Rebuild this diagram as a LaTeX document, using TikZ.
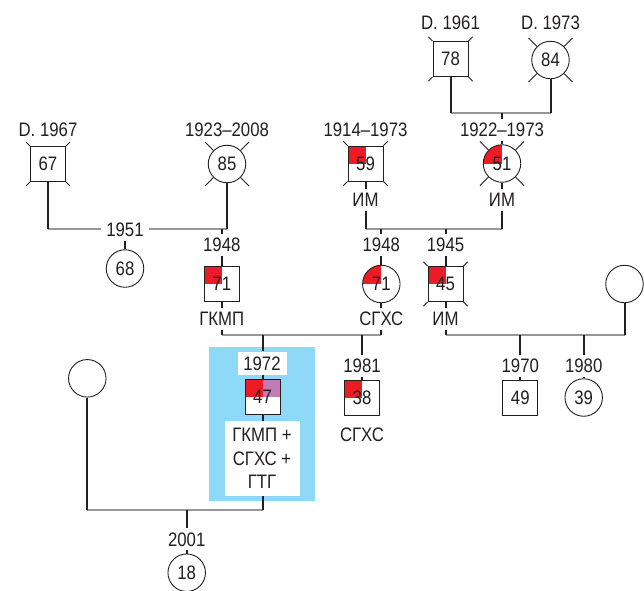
\documentclass[tikz,border=0pt]{standalone}
\usepackage{fontspec}
\setmainfont{Liberation Sans}[FakeStretch=0.86]
\usetikzlibrary{calc}
\definecolor{ink}{RGB}{35,31,32}
\definecolor{hgray}{RGB}{150,151,154}
\definecolor{mred}{RGB}{237,28,36}
\definecolor{mpurple}{RGB}{194,124,181}
\definecolor{mblue}{RGB}{142,216,248}
\begin{document}
\begin{tikzpicture}[x=1pt,y=-1pt, font=\fontsize{19.5}{23.3}\selectfont, text=ink,
  sq/.style={draw=ink, line width=0.9pt, minimum size=35pt, inner sep=0pt, fill=white},
  ci/.style={circle, draw=ink, line width=0.9pt, minimum size=37.5pt, inner sep=0pt, fill=white},
  redq/.style={path picture={\fill[mred] (path picture bounding box.north west) rectangle (path picture bounding box.center);}},
  twoq/.style={path picture={\fill[mred] (path picture bounding box.north west) rectangle (path picture bounding box.center);
     \fill[mpurple] (path picture bounding box.north east) rectangle (path picture bounding box.center);}},
  lab/.style={inner xsep=1pt, inner ysep=4pt},
  vl/.style={draw=ink, line width=2pt},
  hl/.style={draw=hgray, line width=2.2pt},
  tick/.style={draw=ink, line width=0.8pt},
  whitebox/.style={fill=white, inner sep=0pt, align=center}
]
\useasboundingbox (0,0) rectangle (644,590);

% marriage-line junctions
\coordinate (jA1) at (450.5,113.3); \coordinate (jA2) at (550.5,113.3);
\coordinate (jB1) at (48,229);      \coordinate (jB2) at (227,229);
\coordinate (jC1) at (365.5,229);   \coordinate (jC2) at (502,229);
\coordinate (jD1) at (221.8,335);   \coordinate (jD2) at (381.3,335);
\coordinate (jE1) at (445.5,335);   \coordinate (jE2) at (624.5,335);
\coordinate (jF1) at (87.3,510);    \coordinate (jF2) at (262.5,510);

% highlight
\node[fill=mblue, minimum width=106pt, minimum height=154pt, inner sep=0pt] (hlbox) at (262,423.7) {};

% horizontal (gray) lines
\draw[hl] (jA1) -- (jA2);
\draw[hl] (jB1) -- (jB2);
\draw[hl] (jC1) -- (jC2);
\draw[hl] (jD1) -- (jD2);
\draw[hl] (jE1) -- (jE2);
\draw[hl] (jF1) -- (jF2);

% generation 1
\node[sq] (n78) at (450.5,59) {78};
\node[lab] (d78) at (450.5,22.7) {D. 1961};
\node[ci] (n84) at (550.5,60) {84};
\node[lab] (d84) at (550.5,22.7) {D. 1973};

% generation 2
\node[sq] (n67) at (48,164) {67};
\node[lab] (d67) at (48,130) {D. 1967};
\node[ci] (n85) at (227,164) {85};
\node[lab] (d85) at (227,130) {1923–2008};
\node[sq,redq] (n59) at (365.5,163.5) {59};
\node[lab] (d59) at (365.5,130) {1914–1973};
\node[lab] (i59) at (365.5,200) {ИМ};
\node[ci,redq] (n51) at (502,163.5) {51};
\node[lab] (d51) at (502,130) {1922–1973};
\node[lab] (i51) at (502,200) {ИМ};

% generation 3
\node[lab, fill=white, inner xsep=5pt] (y68) at (125,230) {1951};
\node[ci] (n68) at (125,268.5) {68};
\node[lab] (y71a) at (221.8,245) {1948};
\node[sq,redq] (n71a) at (221.8,284) {71};
\node[lab] (g71a) at (221.8,319) {ГКМП};
\node[lab] (y71b) at (381.3,245) {1948};
\node[ci,redq] (n71b) at (381.3,284) {71};
\node[lab] (g71b) at (381.3,319) {СГХС};
\node[lab] (y45) at (445.5,245) {1945};
\node[sq,redq] (n45) at (445.5,284) {45};
\node[lab] (i45) at (445.5,319) {ИМ};
\node[ci] (nR) at (624.5,284) {};

% generation 4
\node[ci] (nL) at (87.3,378.3) {};
\node[whitebox, minimum width=49pt, minimum height=23.3pt] (y47) at (262,363.3) {1972};
\node[sq,twoq] (n47) at (262.5,397) {47};
\node[whitebox, minimum width=75pt, minimum height=74.7pt] (g47) at (262,458.3) {ГКМП +\\СГХС +\\ГТГ};
\node[lab] (y38) at (362,366) {1981};
\node[sq,redq] (n38) at (362,397.5) {38};
\node[lab] (g38) at (362,435) {СГХС};
\node[lab] (y49) at (520.3,366) {1970};
\node[sq] (n49) at (520.3,397.5) {49};
\node[lab] (y39) at (583.7,366) {1980};
\node[ci] (n39) at (583.7,397.5) {39};

% generation 5
\node[lab] (y18) at (186.7,539.3) {2001};
\node[ci] (n18) at (186.7,572.7) {18};

% vertical connectors
\draw[vl] (n78.south) -- (jA1);
\draw[vl] (n84.south) -- (jA2);
\draw[vl] (d51 |- jA1) -- (d51.north);
\draw[vl] (d51.south) -- (n51.north);

\draw[vl] (n67.south) -- (jB1);
\draw[vl] (n85.south) -- (jB2);
\draw[vl] (y68.south) -- (n68.north);
\draw[vl] (y71a |- jB1) -- (y71a.north);
\draw[vl] (y71a.south) -- (n71a.north);

\draw[vl] (n59.south) -- (i59.north);
\draw[vl] (i59.south) -- (jC1);
\draw[vl] (n51.south) -- (i51.north);
\draw[vl] (i51.south) -- (jC2);
\draw[vl] (y71b |- jC1) -- (y71b.north);
\draw[vl] (y71b.south) -- (n71b.north);
\draw[vl] (y45 |- jC1) -- (y45.north);
\draw[vl] (y45.south) -- (n45.north);

\draw[vl] (n71a.south) -- (g71a.north);
\draw[vl] (g71a.south) -- (jD1);
\draw[vl] (n71b.south) -- (g71b.north);
\draw[vl] (g71b.south) -- (jD2);
\draw[vl] (y38 |- jD1) -- (y38.north);
\draw[vl] (y38.south) -- (n38.north);
\draw[vl] (n47 |- jD1) -- (n47 |- y47.north);
\draw[vl] (n47 |- y47.south) -- (n47.north);
\draw[vl] (n47.south) -- (n47 |- g47.north);
\draw[vl] (n47 |- g47.south) -- (jF2);

\draw[vl] (n45.south) -- (i45.north);
\draw[vl] (i45.south) -- (jE1);
\draw[vl] (nR.south) -- (jE2);
\draw[vl] (y49 |- jE1) -- (y49.north);
\draw[vl] (y49.south) -- (n49.north);
\draw[vl] (y39 |- jE1) -- (y39.north);
\draw[vl] (y39.south) -- (n39.north);

\draw[vl] (nL.south) -- (jF1);
\draw[vl] (y18 |- jF1) -- (y18.north);
\draw[vl] (y18.south) -- (n18.north);

% deceased marks
\foreach \n in {n78,n67,n59,n45}
  \foreach \a in {45,135,225,315}
    \draw[tick] (\n.\a) -- ($(\n.\a)!-6pt!(\n.center)$);
\foreach \n in {n84,n85,n51}
  \foreach \a in {45,135,225,315}
    \draw[tick] (\n.\a) -- ($(\n.\a)!-12pt!(\n.center)$);
\end{tikzpicture}
\end{document}
